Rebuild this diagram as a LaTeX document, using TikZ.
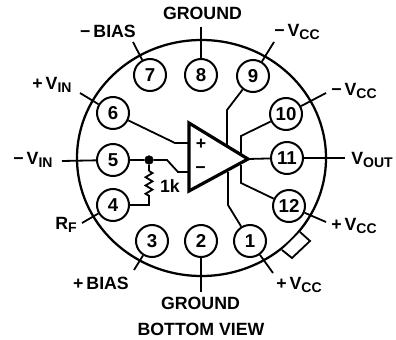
\documentclass[tikz,border=0pt]{standalone}
\usepackage{fontspec}
\setmainfont{Liberation Sans}
\usetikzlibrary{decorations.pathmorphing}
\newcommand{\pinsub}[1]{\raisebox{-0.35ex}{\fontsize{10.5}{11}\selectfont #1}}
\tikzset{
  pin/.style={draw, circle, line width=1.5pt, minimum size=24pt, inner sep=0pt,
    font=\fontsize{14}{15}\bfseries},
  lead/.style={line width=1.35pt},
  lbl/.style={inner sep=0pt, font=\fontsize{13.3}{15}\bfseries},
  junction/.style={draw, circle, fill=black, inner sep=0pt, minimum size=6.5pt}
}
\begin{document}
\begin{tikzpicture}[x=0.75pt, y=-0.75pt]
    \useasboundingbox (0,0) rectangle (396,339);
    % can and tab
    \draw[line width=1.7pt] (201.5,158) ellipse (124.5 and 118);
    \draw[line width=1.35pt, fill=white] (282,250) -- (292,258) -- (310,241) -- (300,232);
    % pins
    \node[pin] (p7) at (150,75) {7};
    \node[pin] (p8) at (201,75) {8};
    \node[pin] (p9) at (253,76) {9};
    \node[pin] (p6) at (113,113) {6};
    \node[pin] (p10) at (286,114) {10};
    \node[pin] (p5) at (113,160) {5};
    \node[pin] (p11) at (287,158) {11};
    \node[pin] (p4) at (113,205) {4};
    \node[pin] (p12) at (289,206) {12};
    \node[pin] (p3) at (152,241) {3};
    \node[pin] (p2) at (201,241) {2};
    \node[pin] (p1) at (250,241) {1};
    % amplifier
    \coordinate (ampT) at (189,123);
    \coordinate (ampB) at (189,191);
    \coordinate (ampO) at (248,159);
    \draw[line width=2.4pt, line join=miter] (ampT) -- (ampO) -- (ampB) -- cycle;
    \node[lbl] (plus) at (201,144) {+};
    \node[lbl] (minus) at (200.5,170.5) {\textminus};
    % free ends of the leads
    \coordinate (e7) at (133,42);
    \coordinate (e8) at (201,27);
    \coordinate (e9) at (274,42);
    \coordinate (e6) at (80,93);
    \coordinate (e10) at (326,93);
    \coordinate (e5) at (62,161);
    \coordinate (e11) at (345,158);
    \coordinate (e4) at (82,223);
    \coordinate (e12) at (326,222);
    \coordinate (e3) at (134,270);
    \coordinate (e2) at (201,292);
    \coordinate (e1) at (273,273);
    \draw[lead] (p7) -- (e7);
    \draw[lead] (p8) -- (e8);
    \draw[lead] (p9) -- (e9);
    \draw[lead] (p6) -- (e6);
    \draw[lead] (p10) -- (e10);
    \draw[lead] (p5) -- (e5);
    \draw[lead] (p11) -- (e11);
    \draw[lead] (p4) -- (e4);
    \draw[lead] (p12) -- (e12);
    \draw[lead] (p3) -- (e3);
    \draw[lead] (p2) -- (e2);
    \draw[lead] (p1) -- (e1);
    % inside wiring
    \node[junction] (fb) at (149,160) {};
    \coordinate (rb) at (149,205);
    \draw[lead] (p6) -- (175,143) -- (189,143);
    \draw[lead] (p5) -- (fb) -- (167,160) -- (178,172) -- (189,172);
    \draw[lead] (fb) -- (149,171);
    \draw[lead, decorate, decoration={zigzag, segment length=6.2pt, amplitude=2.6pt}]
      (149,171) -- (149,196);
    \draw[lead] (149,196) -- (rb) -- (p4);
    \draw[lead] (p11) -- (ampO);
    \draw[lead] (p9) -- (227,110) -- (227,146);
    \draw[lead] (p10) -- (241,136) -- (241,153);
    \draw[lead] (p1) -- (228,205) -- (228,172);
    \draw[lead] (p12) -- (241,183) -- (241,165);
    % labels
    \node[lbl] (lgnd) at (202.5,13) {GROUND};
    \node[lbl] (lbias) at (108,31) {\textminus\,BIAS};
    \node[lbl] (lvcc) at (297,32) {\textminus\,V\pinsub{CC}};
    \node[lbl] (lvin) at (52,85) {+\,V\pinsub{IN}};
    \node[lbl] (lvcc2) at (354,91) {\textminus\,V\pinsub{CC}};
    \node[lbl] (lvn) at (33,160) {\textminus\,V\pinsub{IN}};
    \node[lbl] (lout) at (372,160) {V\pinsub{OUT}};
    \node[lbl] (lk) at (170,186) {1k};
    \node[lbl] (lrf) at (66,225) {R\pinsub{F}};
    \node[lbl] (lvcc3) at (354,226) {+\,V\pinsub{CC}};
    \node[lbl] (lpb) at (101,283) {+\,BIAS};
    \node[lbl] (lvcc4) at (299,285) {+\,V\pinsub{CC}};
    \node[lbl] (lgnd2) at (200.5,303) {GROUND};
    \node[lbl] (lview) at (201,329) {BOTTOM VIEW};
  \end{tikzpicture}
\end{document}
